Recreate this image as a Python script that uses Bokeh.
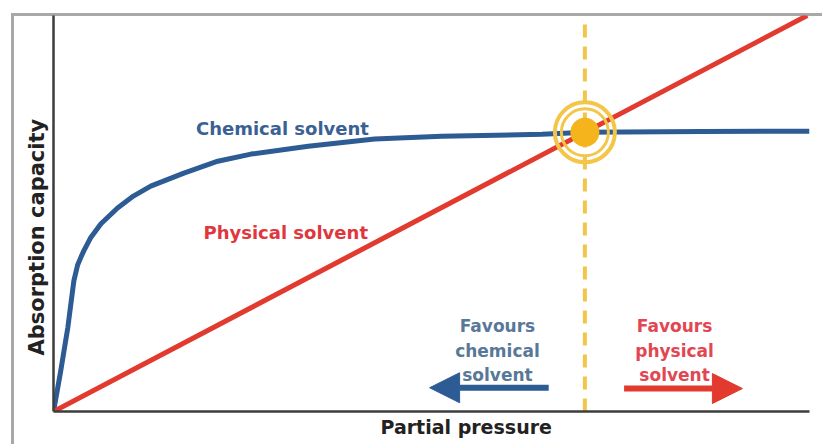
from bokeh.plotting import figure
from bokeh.models import Range1d, FixedTicker, Label, Arrow, NormalHead, Title
from bokeh.embed import file_html
from bokeh.resources import INLINE

# ---- data ----
chem_pressure = [0.0, 0.09, 0.19, 0.27, 0.32, 0.36, 0.40, 0.49, 0.63, 0.85, 1.06, 1.29,
                 1.73, 2.18, 2.62, 3.38, 4.26, 5.15, 6.48, 7.06, 8.60, 10.03]
chem_capacity = [0.0, 0.96, 2.12, 3.30, 3.70, 3.88, 4.05, 4.38, 4.74, 5.14, 5.44, 5.69,
                 6.02, 6.32, 6.50, 6.70, 6.88, 6.95, 7.00, 7.05, 7.07, 7.08]
phys_pressure = [0.0, 10.0]
phys_capacity = [0.0, 10.0]
crossover_pressure = 7.05
crossover_capacity = 7.05
x_max = 10.03
y_max = 10.0

FONT = "DejaVu Sans"
BLUE = "#2d5b94"
RED = "#e23a2e"
GOLD = "#f3c548"
AXIS = "#3c3c3c"

p = figure(width=822, height=444, output_backend="svg", toolbar_location=None,
           x_range=Range1d(0, x_max), y_range=Range1d(0, y_max),
           min_border_left=53, min_border_right=13, min_border_top=15, min_border_bottom=33)
p.border_fill_color = None
p.background_fill_color = None
p.outline_line_color = None
p.grid.visible = False
p.styles = {
    "background-image": "linear-gradient(#a8a8a8,#a8a8a8), linear-gradient(#a8a8a8,#a8a8a8)",
    "background-size": "3px 100%, 100% 3px",
    "background-position": "11px 13px, 11px 13px",
    "background-repeat": "no-repeat",
}

for ax in (p.xaxis, p.yaxis):
    ax.ticker = FixedTicker(ticks=[])
    ax.major_tick_line_color = None
    ax.minor_tick_line_color = None
    ax.major_tick_out = 0
    ax.major_label_standoff = 0
    ax.major_label_text_font_size = "0px"
    ax.axis_line_color = AXIS
    ax.axis_line_width = 2.5

# axis titles
p.add_layout(Title(text="Absorption capacity", align="left", offset=56, standoff=10,
                   text_font=FONT, text_font_style="bold", text_font_size="21px",
                   text_color="#222222"), "left")
p.add_layout(Title(text="Partial pressure", align="left", offset=327, standoff=4,
                   text_font=FONT, text_font_style="bold", text_font_size="19px",
                   text_color="#222222"), "below")

# crossover dashed line
p.line([crossover_pressure, crossover_pressure], [0, y_max], line_color=GOLD,
       line_width=4, line_dash="13 9")

# curves
p.line(chem_pressure, chem_capacity, line_color=BLUE, line_width=5, line_join="round")
p.line(phys_pressure, phys_capacity, line_color=RED, line_width=5)

# crossover target
p.scatter([crossover_pressure], [crossover_capacity], size=60, fill_color=None,
          line_color=GOLD, line_width=4)
p.scatter([crossover_pressure], [crossover_capacity], size=47, fill_color=None,
          line_color=GOLD, line_width=3)
p.scatter([crossover_pressure], [crossover_capacity], size=29, fill_color="#f5b41c",
          line_color=None)

# arrows
p.add_layout(Arrow(x_start=6.57, y_start=0.60, x_end=4.99, y_end=0.60,
                   line_color=BLUE, line_width=6,
                   end=NormalHead(size=30, fill_color=BLUE, line_color=BLUE)))
p.add_layout(Arrow(x_start=7.57, y_start=0.58, x_end=9.14, y_end=0.58,
                   line_color=RED, line_width=6,
                   end=NormalHead(size=30, fill_color=RED, line_color=RED)))

# texts
p.add_layout(Label(x=1.89, y=7.15, text="Chemical solvent", text_font=FONT,
                   text_font_style="bold", text_font_size="18px", text_color="#3a6194",
                   text_baseline="middle"))
p.add_layout(Label(x=1.99, y=4.51, text="Physical solvent", text_font=FONT,
                   text_font_style="bold", text_font_size="18px", text_color="#e0373f",
                   text_baseline="middle"))
p.add_layout(Label(x=5.89, y=1.54, text="Favours\nchemical\nsolvent", text_font=FONT,
                   text_font_style="bold", text_font_size="17px", text_color="#587898",
                   text_align="center", text_baseline="middle", text_line_height=1.22))
p.add_layout(Label(x=8.24, y=1.54, text="Favours\nphysical\nsolvent", text_font=FONT,
                   text_font_style="bold", text_font_size="17px", text_color="#e24652",
                   text_align="center", text_baseline="middle", text_line_height=1.22))

open("out.html", "w").write(file_html(p, INLINE))
